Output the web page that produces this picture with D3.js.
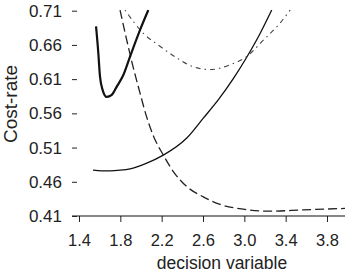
<!DOCTYPE html>
<html lang="en">
<head>
<meta charset="utf-8" />
<title></title>
<script src="https://d3js.org/d3.v7.min.js"></script>
<style>
    body { margin: 0; background: #fff; }
    text { font-family: "Liberation Sans", Arial, sans-serif; fill: #222; }
</style>
</head>
<body>
<div id="chart"></div>
<script>

    // values: [decision variable, cost-rate]
    const thickCurve = [[1.565, 0.687], [1.587, 0.648], [1.603, 0.614], [1.629, 0.594], [1.668, 0.584],
        [1.717, 0.587], [1.765, 0.599], [1.829, 0.616], [1.894, 0.643], [1.991, 0.682], [2.071, 0.711]];
    const solidCurve = [[1.536, 0.477], [1.62, 0.476], [1.70, 0.476], [1.80, 0.477], [1.894, 0.479], [2.05, 0.487],
        [2.216, 0.499], [2.443, 0.524], [2.603, 0.553], [2.749, 0.580], [2.89, 0.610], [3.023, 0.642], [3.15, 0.676], [3.265, 0.711]];
    const dashedCurve = [[1.797, 0.711], [1.862, 0.667], [1.910, 0.636], [1.990, 0.590], [2.05, 0.557],
        [2.12, 0.527], [2.216, 0.499], [2.313, 0.475], [2.443, 0.453], [2.603, 0.438], [2.765, 0.427],
        [2.990, 0.420], [3.249, 0.417], [3.571, 0.419], [3.975, 0.421]];
    const dotDashCurve = [[1.845, 0.711], [2.022, 0.677], [2.184, 0.658], [2.346, 0.641], [2.506, 0.628],
        [2.668, 0.624], [2.862, 0.631], [3.023, 0.643], [3.184, 0.667], [3.346, 0.692], [3.443, 0.711]];
    const xTicks = [1.4, 1.8, 2.2, 2.6, 3.0, 3.4, 3.8];
    const yTicks = [0.41, 0.46, 0.51, 0.56, 0.61, 0.66, 0.71];

    const width = 345, height = 274;

    const x = d3.scaleLinear().domain([1.4, 3.8]).range([79, 327]);
    const y = d3.scaleLinear().domain([0.41, 0.71]).range([216, 10.7]);

    const svg = d3.select("#chart").append("svg")
        .attr("width", width)
        .attr("height", height);

    // clip the curves to the plotting region
    svg.append("clipPath").attr("id", "plot")
        .append("rect")
        .attr("x", x(1.4) - 7).attr("y", y(0.71) - 1)
        .attr("width", width).attr("height", y(0.41) - y(0.71) + 1);

    // x axis
    const xAxis = svg.append("g")
        .attr("transform", "translate(0," + y(0.41) + ")")
        .call(d3.axisBottom(x).tickValues(xTicks).tickFormat(d3.format(".1f")).tickSize(6).tickPadding(12));
    xAxis.select(".domain").remove();
    xAxis.selectAll("line").attr("stroke", "#222");
    xAxis.selectAll("text").style("font-size", "16.5px").attr("fill", "#222");
    xAxis.append("line")
        .attr("x1", x(1.4) - 7).attr("x2", width)
        .attr("stroke", "#111").attr("stroke-width", 1.2);

    // y axis, ticks only
    const yAxis = svg.append("g")
        .attr("transform", "translate(" + (x(1.4) - 2) + ",0)")
        .call(d3.axisLeft(y).tickValues(yTicks).tickFormat(d3.format(".2f")).tickSize(5).tickPadding(10));
    yAxis.select(".domain").remove();
    yAxis.selectAll("line").attr("stroke", "#222");
    yAxis.selectAll("text").style("font-size", "17px").attr("fill", "#222");

    // axis titles
    svg.append("text")
        .attr("transform", "translate(17," + 104 + ") rotate(-90)")
        .attr("text-anchor", "middle")
        .style("font-size", "19px")
        .text("Cost-rate");

    svg.append("text")
        .attr("x", 222).attr("y", 269)
        .attr("text-anchor", "middle")
        .style("font-size", "17.5px")
        .text("decision variable");

    const line = d3.line()
        .x(d => x(d[0]))
        .y(d => y(d[1]))
        .curve(d3.curveMonotoneX);

    const curves = svg.append("g").attr("clip-path", "url(#plot)");

    curves.append("path").datum(solidCurve)
        .attr("d", line).attr("fill", "none")
        .attr("stroke", "#111").attr("stroke-width", 1.3);

    curves.append("path").datum(dashedCurve)
        .attr("d", line).attr("fill", "none")
        .attr("stroke", "#222").attr("stroke-width", 1.3)
        .attr("stroke-dasharray", "9,4");

    curves.append("path").datum(dotDashCurve)
        .attr("d", line).attr("fill", "none")
        .attr("stroke", "#444").attr("stroke-width", 1.1)
        .attr("stroke-dasharray", "1.5,4,5,4");

    curves.append("path").datum(thickCurve)
        .attr("d", line).attr("fill", "none")
        .attr("stroke", "#111").attr("stroke-width", 2.2);

</script>
</body>
</html>
